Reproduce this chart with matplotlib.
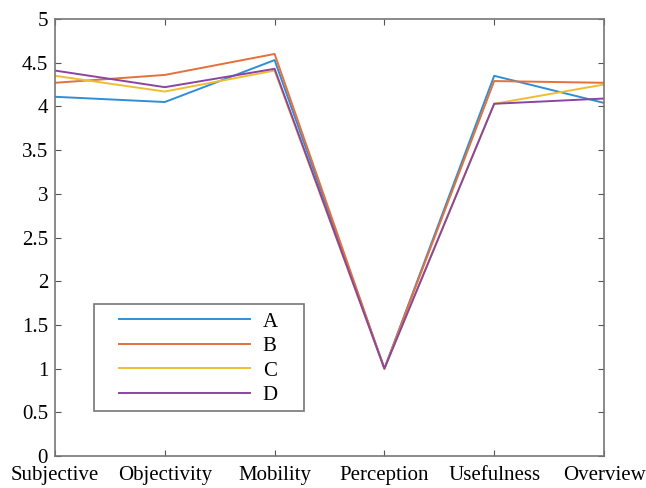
import matplotlib
matplotlib.use("Agg")
import matplotlib.pyplot as plt
from matplotlib.patches import Rectangle
import numpy as np

categories = ["Subjective", "Objectivity", "Mobility", "Perception", "Usefulness", "Overview"]
series_a = [4.11, 4.05, 4.53, 1.0, 4.35, 4.04]
series_b = [4.27, 4.36, 4.60, 1.0, 4.29, 4.27]
series_c = [4.35, 4.17, 4.41, 1.0, 4.03, 4.25]
series_d = [4.41, 4.22, 4.43, 1.0, 4.03, 4.09]
names = ["A", "B", "C", "D"]
yticks = [0, 0.5, 1, 1.5, 2, 2.5, 3, 3.5, 4, 4.5, 5]

colors = ["#2f8fd6", "#e4703a", "#f0bd32", "#8a45a0"]

plt.rcParams["font.family"] = ["Liberation Serif", "DejaVu Serif"]
fig = plt.figure(figsize=(6.46, 4.88), dpi=100)
ax = fig.add_axes([55/646, 32/488, 549/646, 437/488])

x = np.arange(len(categories))
for vals, name, c in zip([series_a, series_b, series_c, series_d], names, colors):
    ax.plot(x, vals, color=c, lw=1.4, label=name)

ax.set_xlim(0, len(categories) - 1)
ax.set_ylim(0, 5)
ax.set_xticks(x)
ax.set_xticklabels(categories, fontsize=15)
ax.set_yticks(yticks)
ax.set_yticklabels([f"{t:g}" for t in yticks], fontsize=15)
ax.tick_params(direction="in", length=4, color="#555", top=True, right=True)
ax.tick_params(axis="x", pad=7)
ax.tick_params(axis="y", pad=5)
for s in ax.spines.values():
    s.set_color("#777")
    s.set_linewidth(1.2)

# legend box drawn by hand (MATLAB style, wider padding than matplotlib's)
ax.add_patch(Rectangle((0.071, 0.103), 0.3826, 0.245, transform=ax.transAxes,
                       facecolor="white", edgecolor="#777", lw=1.2, zorder=4))
leg = ax.legend(loc="center left", bbox_to_anchor=(0.1166, 0.223), borderaxespad=0,
                fontsize=15, handlelength=6.3, frameon=False, borderpad=0,
                labelspacing=0.23, handletextpad=0.6)
leg.set_zorder(5)

fig.savefig("out.png", dpi=100, facecolor="white")
